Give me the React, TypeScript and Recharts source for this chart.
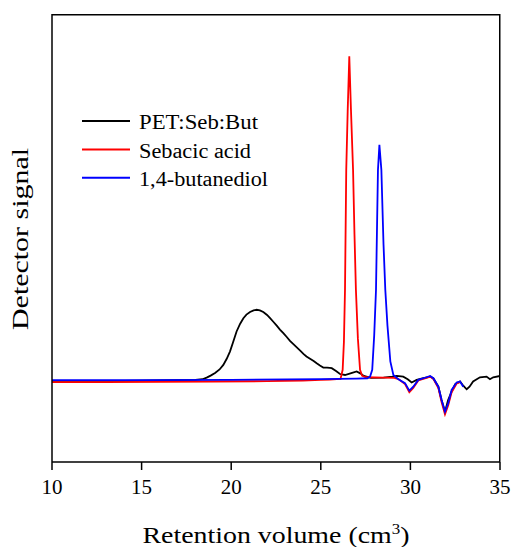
import { LineChart, Line, XAxis, YAxis, Legend } from "recharts";

// retention volume (cm3) / detector signal (arbitrary units, sebacic acid peak = 100)
const petX = [
  10, 12, 14, 16, 17, 18, 18.4, 18.63, 18.85, 19.1, 19.35, 19.56, 19.75, 19.93,
  20.1, 20.3, 20.5, 20.68, 20.85, 21.05, 21.25, 21.42, 21.6, 21.79, 22.0, 22.17,
  22.35, 22.54, 22.72, 22.91, 23.1, 23.28, 23.47, 23.66, 23.85, 24.03, 24.2, 24.4,
  24.6, 24.77, 24.95, 25.14, 25.35, 25.5, 25.61, 25.85, 26.07, 26.35, 26.7, 27.0,
  27.2, 27.4, 27.8, 28.5, 29.0, 29.24, 29.6, 29.85, 30.07, 30.35, 30.72, 31.1,
  31.28, 31.56, 31.74, 31.93, 32.1, 32.3, 32.5, 32.77, 32.95, 33.14, 33.3, 33.5,
  33.88, 34.25, 34.44, 34.62, 35,
];
const petY = [
  0, 0, 0, 0.1, 0.2, 0.3, 0.5, 1.0, 1.6, 2.4, 3.5, 4.9, 6.8, 9.0,
  11.8, 15.2, 17.6, 19.3, 20.4, 21.2, 21.7, 21.9, 21.7, 21.2, 20.3, 19.3,
  18.2, 17.0, 15.8, 14.7, 13.5, 12.3, 11.3, 10.3, 9.3, 8.3, 7.5, 6.8,
  6.1, 5.4, 4.7, 4.1, 4.1, 4.0, 3.9, 3.0, 2.1, 1.8, 2.4, 2.9,
  2.3, 1.5, 0.9, 1.0, 1.3, 1.5, 1.3, 0.5, -0.5, 0.3, 0.8, 1.3,
  0.8, -1.8, -5.9, -9.5, -6.0, -3.3, -1.0, -0.2, -1.5, -2.6, -1.8, -0.2,
  1.1, 1.3, 0.5, 1.1, 1.5,
];

const sebX = [
  10, 13, 16, 19, 22, 24, 25, 25.5, 25.9, 26.1, 26.22, 26.29, 26.35, 26.42, 26.5,
  26.59, 26.68, 26.8, 26.88, 26.96, 27.07, 27.19, 27.3, 27.5, 28.5, 29.1, 29.35,
  29.7, 29.94, 30.16, 30.44, 30.9, 31.1, 31.28, 31.56, 31.74, 31.93, 32.11, 32.3,
  32.58, 32.77,
];
const sebY = [
  -0.4, -0.4, -0.3, -0.2, -0.1, 0.1, 0.3, 0.4, 0.5, 0.6, 3.4, 12, 28, 65, 83,
  100, 84, 65, 45, 28, 13, 3.4, 1.6, 1.1, 1.0, 0.9, 0.5,
  -1.0, -3.5, -2.2, 0.1, 0.9, 1.3, 0.6, -2.2, -6.5, -10.3, -7.5, -3.5,
  -0.8, -0.4,
];

const butX = [
  10, 15, 20, 25, 27, 27.6, 27.75, 27.87, 27.98, 28.08, 28.19, 28.27, 28.38, 28.5,
  28.6, 28.72, 28.88, 29.05, 29.33, 29.7, 29.94, 30.16, 30.44, 30.9, 31.1, 31.28,
  31.56, 31.74, 31.93, 32.11, 32.3, 32.58, 32.77, 32.95,
];
const butY = [
  0.2, 0.2, 0.3, 0.5, 0.7, 0.8, 1.3, 3.4, 14, 28, 65, 72.7, 65, 42,
  28, 17, 6, 1.8, 0.5, -0.7, -3.0, -1.8, 0.3, 1.1, 1.5, 0.8,
  -1.8, -5.9, -9.5, -6.9, -2.8, -0.5, -0.2, -1.8,
];

const xTicks = [10, 15, 20, 25, 30, 35];
const seriesNames = ["PET:Seb:But", "Sebacic acid", "1,4-butanediol"];
const seriesColors = ["#000000", "#ff0000", "#0000ff"];

const toPoints = (xs: number[], ys: number[]) => xs.map((x, i) => ({ x, y: ys[i] }));

const serif = "Liberation Serif, Times New Roman, serif";
const W = 512;
const H = 547;
const M = { top: 14, right: 12, bottom: 0, left: 8 };
const X_AXIS_H = 85;
const Y_AXIS_W = 44;
const PLOT_W = W - M.left - M.right - Y_AXIS_W;
const PLOT_H = H - M.top - M.bottom - X_AXIS_H;

const XTick = ({ x, y, payload }: any) => (
  <text x={x} y={y + 22} textAnchor="middle" fontFamily={serif} fontSize={21} fill="#000">
    {payload.value}
  </text>
);

const XLabel = ({ viewBox }: any) => (
  <text x={viewBox.x + viewBox.width / 2} y={viewBox.y + 80.7} textAnchor="middle"
    fontFamily={serif} fontSize={23} fill="#000" textLength={267} lengthAdjust="spacingAndGlyphs">
    Retention volume (cm
    <tspan dy={-9} fontSize={14}>3</tspan>
    <tspan dy={9}>)</tspan>
  </text>
);

const YLabel = () => (
  <text x={27.5} y={239} transform="rotate(-90, 27.5, 239)" textAnchor="middle"
    fontFamily={serif} fontSize={23} fill="#000" textLength={182} lengthAdjust="spacingAndGlyphs">
    Detector signal
  </text>
);

const legendWidths = [119, 112, 129];

// legend box covers the plot area: draws the top/right frame edges and the key
const LegendBox = () => (
  <svg width={PLOT_W + 2} height={PLOT_H + 2} style={{ overflow: "visible", display: "block" }}>
    <path d={`M0,0.75H${PLOT_W - 0.25}V${PLOT_H}`} fill="none" stroke="#000" strokeWidth={1.5} />
    {seriesNames.map((name, i) => (
      <g key={name}>
        <line x1={30} x2={78} y1={107 + i * 28.4} y2={107 + i * 28.4} stroke={seriesColors[i]} strokeWidth={2} />
        <text x={87} y={115.3 + i * 28.4} fontFamily={serif} fontSize={20} fill="#000"
          textLength={legendWidths[i]} lengthAdjust="spacingAndGlyphs">
          {name}
        </text>
      </g>
    ))}
  </svg>
);

const petPoints = toPoints(petX, petY);

export default function App() {
  return (
    <div>
      <style>{`body{margin:0;overflow:hidden}.recharts-surface{overflow:visible}`}</style>
      <LineChart width={W} height={H} data={petPoints} margin={M}>
        <XAxis dataKey="x" type="number" domain={[10, 35]} ticks={xTicks}
          allowDataOverflow height={X_AXIS_H} tickSize={8} stroke="#000" strokeWidth={1.5}
          tick={<XTick />} label={<XLabel />} />
        <YAxis type="number" domain={[-25, 113]} allowDataOverflow width={Y_AXIS_W}
          tick={false} tickLine={false} stroke="#000" strokeWidth={1.5} label={<YLabel />} />
        <Legend layout="vertical" align="center" verticalAlign="middle" content={<LegendBox />}
          wrapperStyle={{ left: M.left + Y_AXIS_W, top: M.top, width: PLOT_W + 2, height: PLOT_H + 2, pointerEvents: "none" }} />
        <Line dataKey="y" name={seriesNames[0]}
          stroke={seriesColors[0]} strokeWidth={1.8} dot={false} isAnimationActive={false} />
        <Line data={toPoints(sebX, sebY)} dataKey="y" name={seriesNames[1]}
          stroke={seriesColors[1]} strokeWidth={1.8} dot={false} isAnimationActive={false} />
        <Line data={toPoints(butX, butY)} dataKey="y" name={seriesNames[2]}
          stroke={seriesColors[2]} strokeWidth={1.8} dot={false} isAnimationActive={false} />
      </LineChart>
    </div>
  );
}
